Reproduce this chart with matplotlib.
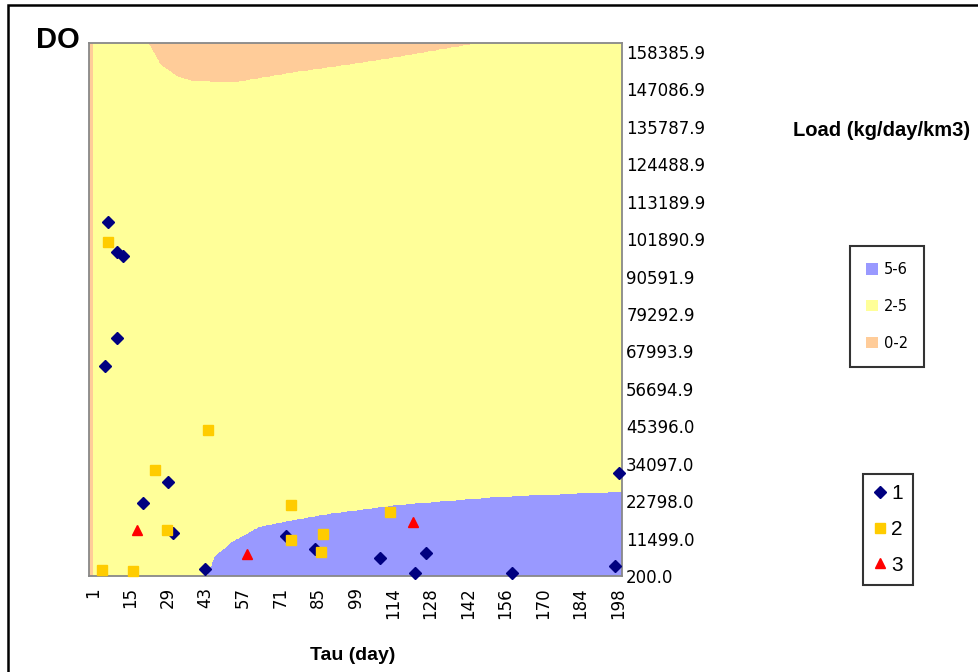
import numpy as np
import matplotlib.pyplot as plt
from matplotlib.patches import Patch, Rectangle
from matplotlib.lines import Line2D

# axis labels
tau_labels = ['1', '15', '29', '43', '57', '71', '85', '99', '114', '128', '142', '156', '170', '184', '198']
load_labels = ['200.0', '11499.0', '22798.0', '34097.0', '45396.0', '56694.9', '67993.9', '79292.9',
               '90591.9', '101890.9', '113189.9', '124488.9', '135787.9', '147086.9', '158385.9']
load_ticks = [200.0, 11499.0, 22798.0, 34097.0, 45396.0, 56694.9, 67993.9, 79292.9,
              90591.9, 101890.9, 113189.9, 124488.9, 135787.9, 147086.9, 158385.9]

# DO = 5 contour (upper edge of the 5-6 band)
b5_tau = [44.2, 46.8, 53.5, 63.7, 74.9, 89.9, 116.2, 153.7, 198.7]
b5_load = [200, 5900, 10400, 14950, 16760, 18870, 21590, 24000, 25510]

# DO = 2 contour (lower edge of the 0-2 cap)
b2_tau = [21.6, 26.1, 32.5, 38.5, 54.3, 76.4, 89.9, 110.2, 127.5, 142.8]
b2_load = [161100, 154470, 150850, 149340, 149040, 152050, 153560, 155970, 158380, 160490]

# measured sites
s1_tau = [6.6, 10.0, 12.3, 10.0, 5.5, 19.8, 29.1, 31.0, 43.0, 73.4, 84.3, 108.7, 125.9, 121.8, 158.2, 196.9, 198.4]
s1_load = [107160, 98120, 96920, 71900, 63470, 22200, 28520, 13160, 2310, 12250, 8330, 5620, 7130, 1100, 1100, 3210, 31230]

s2_tau = [6.6, 44.2, 24.3, 28.8, 4.4, 16.0, 75.3, 75.3, 87.3, 86.6, 112.4]
s2_load = [101100, 44190, 32140, 14060, 2010, 1710, 21590, 11050, 12850, 7430, 19480]

s3_tau = [17.5, 58.8, 121.1]
s3_load = [14060, 6830, 16470]

band_labels = ['5-6', '2-5', '0-2']
band_colors = ['#9999ff', '#ffff99', '#ffcc99']

plt.rcParams['font.family'] = ['Liberation Sans', 'DejaVu Sans']

fig = plt.figure(figsize=(9.79, 6.72), dpi=100)
ax = fig.add_axes([89 / 979, 1 - 576 / 672, 533 / 979, 533 / 672])

# DO surface
tx = np.linspace(-0.5, 199.5, 800)
ly = np.linspace(200, 161100, 800)
X, Y = np.meshgrid(tx, ly)
Z = np.full(X.shape, 3.5)
edge5 = np.interp(X, b5_tau, b5_load, left=-1e9, right=b5_load[-1])
Z[Y < edge5] = 5.5
edge2 = np.interp(X, b2_tau, b2_load, left=1e9, right=1e9)
Z[Y > edge2] = 1.0
Z[X < 1.3] = 1.0
ax.contourf(X, Y, Z, levels=[0, 2, 5, 6], colors=band_colors[::-1])

ax.plot(s1_tau, s1_load, 'D', color='#000080', ms=6.5, ls='none', clip_on=False, zorder=3)
ax.plot(s2_tau, s2_load, 's', color='#ffcc00', ms=6.5, ls='none', clip_on=False, zorder=3)
ax.plot(s3_tau, s3_load, '^', color='#ff0000', ms=7.5, ls='none', clip_on=False, zorder=3)

ax.set_xlim(-0.5, 199.5)
ax.set_ylim(200, 161100)
ax.set_xticks(np.linspace(1, 198, 15))
ax.set_xticklabels(tau_labels, rotation=90, family='DejaVu Sans', fontsize=12)
ax.yaxis.tick_right()
ax.set_yticks(load_ticks)
ax.set_yticklabels(load_labels, family='DejaVu Sans', fontsize=12)
ax.tick_params(axis='x', length=0, pad=8)
ax.tick_params(axis='y', length=0, pad=3)
for sp in ax.spines.values():
    sp.set_color('#888888')
    sp.set_linewidth(1.3)

fig.text(36 / 979, 1 - 40 / 672, 'DO', fontsize=21, fontweight='bold', va='center', ha='left')
fig.text(353 / 979, 1 - 655 / 672, 'Tau (day)', fontsize=14, fontweight='bold', va='center', ha='center')
fig.text(793 / 979, 1 - 130 / 672, 'Load (kg/day/km3)', fontsize=14.5, fontweight='bold', va='center', ha='left')

# legends
band_handles = [Patch(facecolor=c, edgecolor='none') for c in band_colors]
leg1 = fig.legend(band_handles, band_labels, loc='upper left',
                  bbox_to_anchor=(850 / 979, 1 - 246 / 672), bbox_transform=fig.transFigure,
                  prop={'family': 'DejaVu Sans', 'size': 10.5},
                  frameon=True, fancybox=False, edgecolor='black',
                  handlelength=0.8, handleheight=0.8, handletextpad=0.4,
                  labelspacing=1.5, borderpad=1.1, borderaxespad=0)
leg1.get_frame().set_linewidth(1.5)

site_handles = [Line2D([], [], marker='D', color='#000080', ls='none', ms=6.5),
                Line2D([], [], marker='s', color='#ffcc00', ls='none', ms=6.5),
                Line2D([], [], marker='^', color='#ff0000', ls='none', ms=7.5)]
leg2 = fig.legend(site_handles, ['1', '2', '3'], loc='upper left',
                  bbox_to_anchor=(863 / 979, 1 - 474 / 672), bbox_transform=fig.transFigure,
                  fontsize=15, frameon=True, fancybox=False, edgecolor='black',
                  handlelength=0.6, handletextpad=0.25, labelspacing=0.8,
                  borderpad=0.5, borderaxespad=0)
leg2.get_frame().set_linewidth(1.5)

# outer chart frame
fig.add_artist(Rectangle((8 / 979, -0.1), 1.2, 1.1 - 5 / 672, transform=fig.transFigure,
                         fill=False, edgecolor='black', linewidth=1.8))

fig.savefig('out.png', dpi=100)
